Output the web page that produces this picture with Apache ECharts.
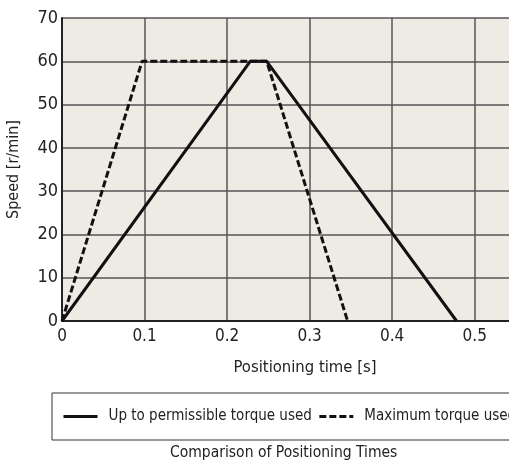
<!DOCTYPE html>
<html>
<head>
<meta charset="utf-8">
<script src="https://cdn.jsdelivr.net/npm/echarts@6/dist/echarts.min.js"></script>
<style>
  html, body { margin: 0; padding: 0; background: #fff; overflow: hidden; }
  #chart { width: 530px; height: 461px; }
</style>
</head>
<body>
<div id="chart"></div>
<script>
var FONT = '"Liberation Sans Narrow", "DejaVu Sans Condensed", "Roboto", sans-serif';

// data
var permTime = [0, 0.228, 0.248, 0.478];
var permSpeed = [0, 60, 60, 0];
var maxTime = [0, 0.097, 0.248, 0.346];
var maxSpeed = [0, 60, 60, 0];
var seriesNames = ['Up to permissible torque used', 'Maximum torque used'];

function pairs(xs, ys) {
    return xs.map(function (x, i) { return [x, ys[i]]; });
}

var myChart = echarts.init(document.getElementById('chart'));
var option = {
    animation: false,
    textStyle: { fontFamily: FONT },
    title: {
        text: 'Comparison of Positioning Times',
        left: 165,
        top: 440,
        textStyle: { fontFamily: FONT, fontSize: 15.5, fontWeight: 'normal', color: '#222' }
    },
    legend: {
        data: seriesNames,
        left: 52,
        top: 393,
        padding: [16, 10, 16, 10],
        borderColor: '#333',
        borderWidth: 1,
        itemWidth: 34,
        itemHeight: 14,
        itemGap: 6,
        itemStyle: { opacity: 0, borderWidth: 0 },
        lineStyle: { width: 3 },
        textStyle: { fontFamily: FONT, fontSize: 15, color: '#222', padding: [0, 0, 0, 6] }
    },
    grid: {
        left: 62,
        right: 14,
        top: 18,
        bottom: 140,
        outerBoundsMode: 'none',
        containLabel: false,
        show: true,
        backgroundColor: '#eeebe4',
        borderWidth: 0
    },
    xAxis: {
        type: 'value',
        min: 0,
        max: 0.55,
        interval: 0.1,
        name: 'Positioning time [s]',
        nameLocation: 'middle',
        nameGap: 38,
        nameTextStyle: { fontFamily: FONT, fontSize: 16.5, color: '#222', padding: [0, 0, 0, 32] },
        axisLine: { lineStyle: { color: '#222', width: 2 } },
        axisTick: { show: false },
        axisLabel: { fontFamily: FONT, fontSize: 17, color: '#222', margin: 7,
            formatter: function (v) { return v > 0.54 ? '' : String(+v.toFixed(1)); } },
        splitLine: { lineStyle: { color: '#555', width: 1.5 } }
    },
    yAxis: {
        type: 'value',
        min: 0,
        max: 70,
        interval: 10,
        name: 'Speed [r/min]',
        nameLocation: 'middle',
        nameGap: 34,
        nameTextStyle: { fontFamily: FONT, fontSize: 16, color: '#222', padding: [0, 0, 6, 0] },
        axisLine: { show: true, lineStyle: { color: '#222', width: 2 } },
        axisTick: { show: false },
        axisLabel: { fontFamily: FONT, fontSize: 18, color: '#222', margin: 4 },
        splitLine: { lineStyle: { color: '#555', width: 1.5 } }
    },
    series: [
        {
            name: seriesNames[0],
            type: 'line',
            symbol: 'none',
            data: pairs(permTime, permSpeed),
            lineStyle: { color: '#111', width: 3 },
            itemStyle: { color: '#111' },
            z: 3
        },
        {
            name: seriesNames[1],
            type: 'line',
            symbol: 'none',
            data: pairs(maxTime, maxSpeed),
            lineStyle: { color: '#111', width: 3, type: [7, 3] },
            itemStyle: { color: '#111' },
            z: 4
        }
    ]
};
myChart.setOption(option);
</script>
</body>
</html>
